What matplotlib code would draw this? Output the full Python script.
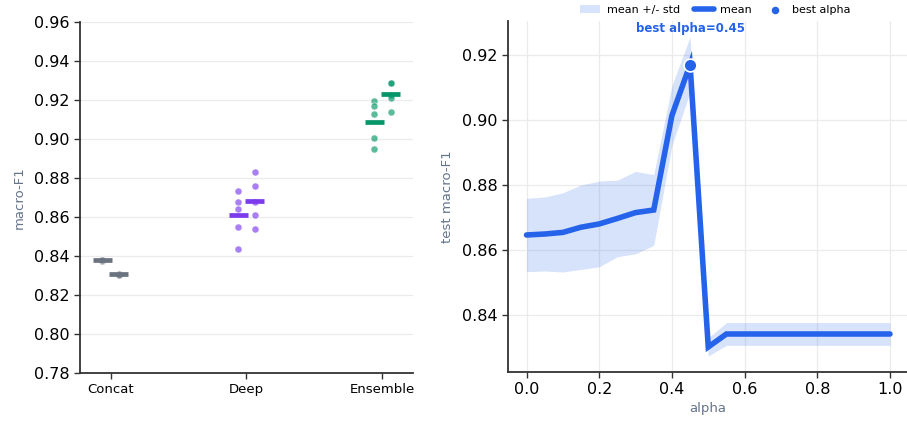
import matplotlib.pyplot as plt
import numpy as np

# ---- left panel data: per-run macro-F1, two runs groups per model ----
models = ["Concat", "Deep", "Ensemble"]
run_a = {
    "Concat": [0.8376, 0.8378, 0.8377, 0.8375, 0.8379],
    "Deep": [0.8735, 0.8678, 0.8643, 0.8547, 0.8436],
    "Ensemble": [0.9195, 0.9170, 0.9130, 0.9005, 0.8947],
}
run_b = {
    "Concat": [0.8305, 0.8307, 0.8306, 0.8308, 0.8304],
    "Deep": [0.8829, 0.8759, 0.8678, 0.8610, 0.8540],
    "Ensemble": [0.9289, 0.9285, 0.9225, 0.9209, 0.9137],
}
model_colors = {"Concat": "#6b7280", "Deep": "#7c3aed", "Ensemble": "#059669"}
left_yticks = [0.78, 0.80, 0.82, 0.84, 0.86, 0.88, 0.90, 0.92, 0.94, 0.96]

# ---- right panel data: alpha sweep ----
alpha = [0.0, 0.05, 0.1, 0.15, 0.2, 0.25, 0.3, 0.35, 0.4, 0.45, 0.5,
         0.55, 0.6, 0.65, 0.7, 0.75, 0.8, 0.85, 0.9, 0.95, 1.0]
mean_f1 = [0.8645, 0.8648, 0.8653, 0.8669, 0.8679, 0.8696, 0.8714, 0.8722,
           0.9013, 0.9170, 0.8300, 0.8340, 0.8340, 0.8340, 0.8340, 0.8340,
           0.8340, 0.8340, 0.8340, 0.8340, 0.8340]
std_f1 = [0.0113, 0.0114, 0.0122, 0.0130, 0.0132, 0.0118, 0.0127, 0.0109,
          0.0092, 0.0085, 0.0028, 0.0035, 0.0035, 0.0035, 0.0035, 0.0035,
          0.0035, 0.0035, 0.0035, 0.0035, 0.0035]
best_alpha = 0.45
right_yticks = [0.84, 0.86, 0.88, 0.90, 0.92]
right_xticks = [0.0, 0.2, 0.4, 0.6, 0.8, 1.0]

BLUE = "#2563eb"
LABEL_GRAY = "#64748b"
SPINE = "#333333"
GRID = "#ebebeb"

fig = plt.figure(figsize=(9.07, 4.24), dpi=100)
ax1 = fig.add_axes([0.0882, 0.1203, 0.3671, 0.8278])
ax2 = fig.add_axes([0.5601, 0.1226, 0.4399, 0.8278])


def style_axes(ax):
    for side in ("top", "right"):
        ax.spines[side].set_visible(False)
    for side in ("left", "bottom"):
        ax.spines[side].set_color(SPINE)
        ax.spines[side].set_linewidth(1.3)
    ax.tick_params(colors=SPINE, labelcolor="black", length=4, width=1)
    ax.set_axisbelow(True)


# ---- left: dots + mean bars ----
style_axes(ax1)
offset = 0.06
half_w = 0.07
for i, name in enumerate(models):
    col = model_colors[name]
    for runs, dx in ((run_a, -offset), (run_b, offset)):
        vals = runs[name]
        ax1.scatter([i + dx] * len(vals), vals, s=26, color=col, alpha=0.65,
                    edgecolors="white", linewidths=0.6, zorder=2)
        m = np.mean(vals)
        ax1.plot([i + dx - half_w, i + dx + half_w], [m, m], color=col,
                 lw=3.4, solid_capstyle="butt", zorder=3)

ax1.set_xlim(-0.225, 2.225)
ax1.set_ylim(0.78, 0.96)
ax1.set_xticks(range(len(models)))
ax1.set_xticklabels(models, fontsize=9.5)
ax1.set_yticks(left_yticks)
ax1.set_yticklabels([f"{v:.2f}" for v in left_yticks], fontsize=11.5)
ax1.yaxis.grid(True, color=GRID, lw=0.9)
ax1.set_ylabel("macro-F1", fontsize=9.5, color=LABEL_GRAY, labelpad=6)

# ---- right: alpha sweep ----
style_axes(ax2)
a = np.array(alpha)
mu = np.array(mean_f1)
sd = np.array(std_f1)
ax2.fill_between(a, mu - sd, mu + sd, color=BLUE, alpha=0.18, lw=0,
                 label="mean +/- std")
ax2.plot(a, mu, color=BLUE, lw=4, solid_capstyle="round",
         solid_joinstyle="miter", label="mean", zorder=3)
best_val = mean_f1[alpha.index(best_alpha)]
ax2.scatter([best_alpha], [best_val], s=85, color=BLUE, edgecolors="white",
            linewidths=1.2, zorder=4, label="best alpha")
ax2.annotate(f"best alpha={best_alpha:.2f}", (best_alpha, best_val),
             xytext=(0, 36), textcoords="offset pixels",
             ha="center", va="center", fontsize=8.5, fontweight="bold",
             color=BLUE)

ax2.set_xlim(-0.0509, 1.0468)
ax2.set_xticks(right_xticks)
ax2.set_xticklabels([f"{v:.1f}" for v in right_xticks], fontsize=11.5)
ax2.set_yticks(right_yticks)
ax2.set_yticklabels([f"{v:.2f}" for v in right_yticks], fontsize=11.5)
ax2.grid(True, color=GRID, lw=0.9)
ax2.set_xlabel("alpha", fontsize=9.5, color=LABEL_GRAY, labelpad=3)
ax2.set_ylabel("test macro-F1", fontsize=9.5, color=LABEL_GRAY, labelpad=6)
ax2.legend(loc="lower center", bbox_to_anchor=(0.52, 1.005), ncol=3,
           frameon=False, fontsize=8, handlelength=1.8, handletextpad=0.6,
           columnspacing=1.2, markerscale=0.72, borderaxespad=0.0)

fig.savefig("out.png", dpi=100)
